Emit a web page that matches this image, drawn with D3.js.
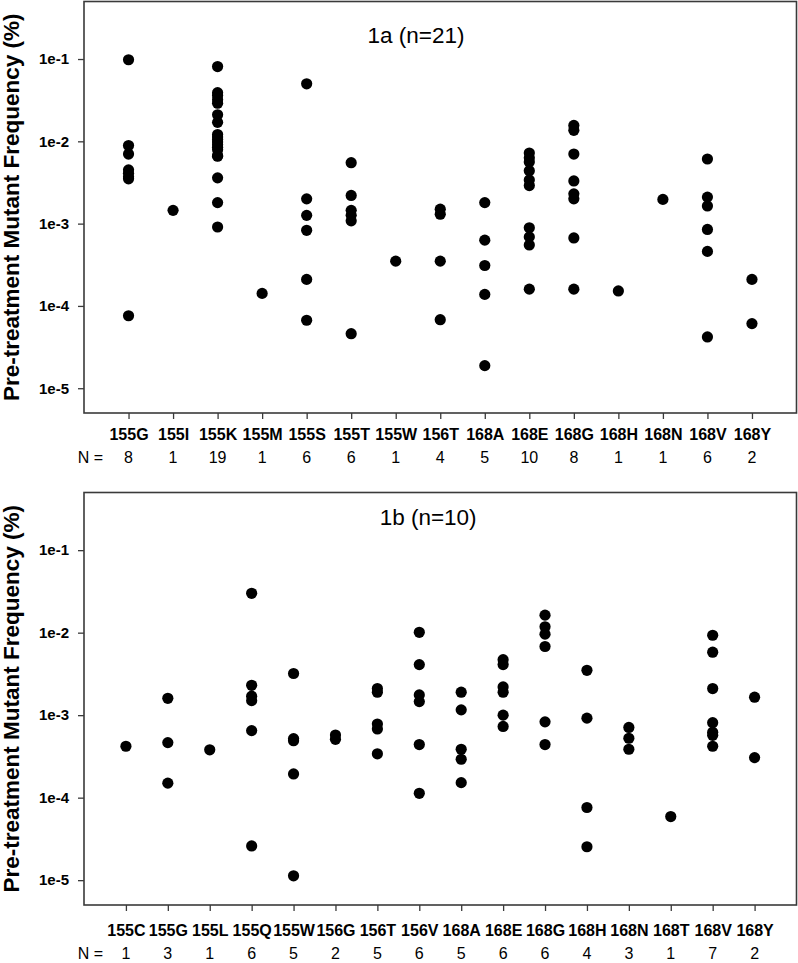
<!DOCTYPE html>
<html>
<head>
<meta charset="utf-8">
<script src="https://cdn.jsdelivr.net/npm/d3@7"></script>
<style>
  html, body { margin: 0; padding: 0; background: #fff; }
  svg { display: block; font-family: "Liberation Sans", Arial, sans-serif; }
</style>
</head>
<body>
<svg id="chart" width="798" height="963"></svg>
<script>
// ---------------- DATA ----------------
const yTickValues = [1e-1, 1e-2, 1e-3, 1e-4, 1e-5];
const yTickLabels = ["1e-1", "1e-2", "1e-3", "1e-4", "1e-5"];
const yLabel = "Pre-treatment Mutant Frequency (%)";

const titleA = "1a (n=21)";
const categoriesA = ["155G","155I","155K","155M","155S","155T","155W","156T","168A","168E","168G","168H","168N","168V","168Y"];
const countsA = [8,1,19,1,6,6,1,4,5,10,8,1,1,6,2];
const valuesA = [
  [0.098, 0.0089, 0.0070, 0.0045, 0.0041, 0.0037, 0.0035, 7.6e-5],
  [0.00145],
  [0.081, 0.039, 0.036, 0.032, 0.029, 0.021, 0.017, 0.0121, 0.0113, 0.0105, 0.0098, 0.0091, 0.0085, 0.0079, 0.0067, 0.0066, 0.0036, 0.0018, 0.00091],
  [1.42e-4],
  [0.050, 0.0020, 0.00126, 0.00083, 2.1e-4, 6.7e-5],
  [0.0055, 0.0022, 0.00145, 0.00126, 0.00108, 4.6e-5],
  [3.5e-4],
  [0.0015, 0.0013, 3.5e-4, 6.8e-5],
  [0.0018, 6.3e-4, 3.1e-4, 1.38e-4, 1.88e-5],
  [0.0072, 0.0063, 0.0056, 0.0044, 0.0034, 0.0029, 8.9e-4, 6.9e-4, 5.5e-4, 1.6e-4],
  [0.0156, 0.0136, 0.0070, 0.0033, 0.0023, 0.0020, 6.7e-4, 1.6e-4],
  [1.52e-4],
  [0.00197],
  [0.0061, 0.0021, 0.00164, 8.5e-4, 4.6e-4, 4.2e-5],
  [2.1e-4, 6.1e-5]
];

const titleB = "1b (n=10)";
const categoriesB = ["155C","155G","155L","155Q","155W","156G","156T","156V","168A","168E","168G","168H","168N","168T","168V","168Y"];
const countsB = [1,3,1,6,5,2,5,6,5,6,6,4,3,1,7,2];
const valuesB = [
  [4.2e-4],
  [0.0016, 4.65e-4, 1.5e-4],
  [3.8e-4],
  [0.030, 0.0023, 0.0017, 0.0015, 6.5e-4, 2.6e-5],
  [0.0032, 5.2e-4, 4.9e-4, 1.94e-4, 1.13e-5],
  [5.75e-4, 5.1e-4],
  [0.0021, 0.0019, 7.8e-4, 6.8e-4, 3.4e-4],
  [0.0101, 0.0041, 0.00176, 0.00146, 4.4e-4, 1.13e-4],
  [0.0019, 0.00116, 3.86e-4, 2.92e-4, 1.52e-4],
  [0.0047, 0.0041, 0.0022, 0.0019, 0.0010, 7.3e-4],
  [0.0163, 0.0118, 0.0096, 0.0068, 8.3e-4, 4.4e-4],
  [0.0035, 9.2e-4, 7.6e-5, 2.54e-5],
  [7.1e-4, 5.25e-4, 3.86e-4],
  [5.9e-5],
  [0.0093, 0.0058, 0.0021, 8.1e-4, 6.2e-4, 5.7e-4, 4.2e-4],
  [0.00165, 3.06e-4]
];

const yDomain = [5e-6, 0.5];

// ---------------- LAYOUT ----------------
const svg = d3.select("#chart");
svg.append("rect").attr("width", 798).attr("height", 963).attr("fill", "#fff");

const panels = [
  { title: titleA, cats: categoriesA, counts: countsA, values: valuesA,
    top: 1.5, bottom: 413, titleX: 0.466, titleY: 41.5, labelDy: 27, countDy: 49.5 },
  { title: titleB, cats: categoriesB, counts: countsB, values: valuesB,
    top: 492.5, bottom: 905, titleX: 0.483, titleY: 32.5, labelDy: 30.5, countDy: 54 }
];
const left = 84, right = 796.5;
const axisColor = "#3a3a3a";

panels.forEach(p => {
  const g = svg.append("g");
  const x = d3.scalePoint().domain(p.cats).range([left, right]).padding(1);
  const y = d3.scaleLog().domain(yDomain).range([p.bottom, p.top]);

  // frame
  g.append("rect")
    .attr("x", left).attr("y", p.top)
    .attr("width", right - left).attr("height", p.bottom - p.top)
    .attr("fill", "none").attr("stroke", axisColor).attr("stroke-width", 1.6);

  // y axis
  const yAxis = d3.axisLeft(y).tickValues(yTickValues)
    .tickFormat((d, i) => yTickLabels[i]).tickSize(6).tickPadding(9);
  const yg = g.append("g").attr("transform", `translate(${left},0)`).call(yAxis);
  yg.select(".domain").remove();
  yg.selectAll(".tick line").attr("stroke", axisColor).attr("stroke-width", 1.3);
  yg.selectAll(".tick text")
    .attr("fill", "#000").attr("font-size", 15).attr("font-weight", "bold")
    .attr("font-family", "Liberation Sans, Arial, sans-serif");

  // x axis
  const xAxis = d3.axisBottom(x).tickSize(6).tickPadding(0);
  const xg = g.append("g").attr("transform", `translate(0,${p.bottom})`).call(xAxis);
  xg.select(".domain").remove();
  xg.selectAll(".tick line").attr("stroke", axisColor).attr("stroke-width", 1.3);
  xg.selectAll(".tick text")
    .attr("y", p.labelDy).attr("dy", 0)
    .attr("fill", "#000").attr("font-size", 16).attr("font-weight", "bold")
    .attr("font-family", "Liberation Sans, Arial, sans-serif");

  // counts row
  g.append("text")
    .attr("x", 103).attr("y", p.bottom + p.countDy)
    .attr("text-anchor", "end").attr("font-size", 16)
    .text("N =");
  g.selectAll("text.count").data(p.cats).enter().append("text")
    .attr("class", "count")
    .attr("x", d => x(d)).attr("y", p.bottom + p.countDy)
    .attr("text-anchor", "middle").attr("font-size", 16)
    .text((d, i) => p.counts[i]);

  // title
  g.append("text")
    .attr("x", left + (right - left) * p.titleX).attr("y", p.top + p.titleY)
    .attr("text-anchor", "middle").attr("font-size", 22.5)
    .text(p.title);

  // y label
  g.append("text")
    .attr("transform", `translate(18.5,${(p.top + p.bottom) / 2}) rotate(-90)`)
    .attr("text-anchor", "middle").attr("font-size", 22.5).attr("font-weight", "bold")
    .text(yLabel);

  // points
  const pts = [];
  p.cats.forEach((c, i) => p.values[i].forEach(v => pts.push({ c, v })));
  g.append("g").selectAll("circle").data(pts).enter().append("circle")
    .attr("cx", d => x(d.c)).attr("cy", d => y(d.v))
    .attr("r", 5.6).attr("fill", "#000");
});
</script>
</body>
</html>
